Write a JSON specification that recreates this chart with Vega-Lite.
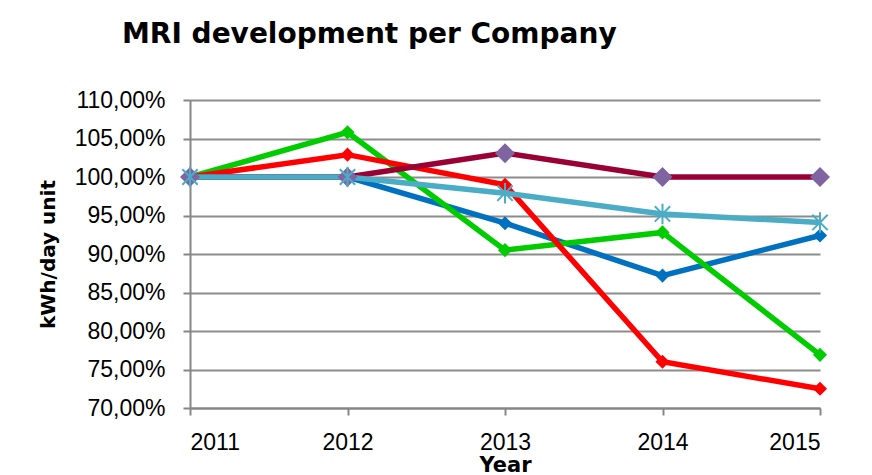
{
  "$schema": "https://vega.github.io/schema/vega-lite/v6.json",
  "width": 630,
  "height": 308,
  "autosize": {"type": "none"},
  "padding": {"left": 190, "top": 100, "right": 52, "bottom": 67},
  "background": "white",
  "config": {
    "view": {"stroke": null},
    "font": "Liberation Sans"
  },
  "title": {
    "text": "MRI development per Company",
    "anchor": "start",
    "frame": "group",
    "dx": -68,
    "offset": 40,
    "fontSize": 28,
    "fontWeight": "bold",
    "color": "#000000",
    "font": "DejaVu Sans"
  },
  "data": {
    "values": [
      {"year": 2011, "series": "A", "value": 100.0},
      {"year": 2012, "series": "A", "value": 100.0},
      {"year": 2013, "series": "A", "value": 94.0},
      {"year": 2014, "series": "A", "value": 87.2},
      {"year": 2015, "series": "A", "value": 92.4},
      {"year": 2011, "series": "B", "value": 100.0},
      {"year": 2012, "series": "B", "value": 105.8},
      {"year": 2013, "series": "B", "value": 90.5},
      {"year": 2014, "series": "B", "value": 92.8},
      {"year": 2015, "series": "B", "value": 76.9},
      {"year": 2011, "series": "C", "value": 100.0},
      {"year": 2012, "series": "C", "value": 102.9},
      {"year": 2013, "series": "C", "value": 99.0},
      {"year": 2014, "series": "C", "value": 76.0},
      {"year": 2015, "series": "C", "value": 72.5},
      {"year": 2011, "series": "D", "value": 100.0},
      {"year": 2012, "series": "D", "value": 100.0},
      {"year": 2013, "series": "D", "value": 103.1},
      {"year": 2014, "series": "D", "value": 100.0},
      {"year": 2015, "series": "D", "value": 100.0},
      {"year": 2011, "series": "E", "value": 100.0},
      {"year": 2012, "series": "E", "value": 100.0},
      {"year": 2013, "series": "E", "value": 97.9},
      {"year": 2014, "series": "E", "value": 95.2},
      {"year": 2015, "series": "E", "value": 94.1}
    ]
  },
  "encoding": {
    "x": {
      "field": "year",
      "type": "quantitative",
      "scale": {"domain": [2011, 2015], "nice": false, "zero": false},
      "axis": {
        "values": [2011, 2012, 2013, 2014, 2015],
        "format": "d",
        "grid": false,
        "domainColor": "#868686",
        "domainWidth": 2,
        "tickColor": "#868686",
        "tickWidth": 2,
        "tickSize": 7,
        "labelFontSize": 23,
        "labelColor": "#000000",
        "labelPadding": 16,
        "labelFont": "Liberation Sans",
        "title": "Year",
        "titleFont": "DejaVu Sans",
        "titleFontSize": 21,
        "titleFontWeight": "bold",
        "titleColor": "#000000",
        "titlePadding": 0
      }
    },
    "y": {
      "field": "value",
      "type": "quantitative",
      "scale": {"domain": [70, 110], "nice": false, "zero": false},
      "axis": {
        "values": [70, 75, 80, 85, 90, 95, 100, 105, 110],
        "labelExpr": "replace(format(datum.value, '.2f'), '.', ',') + '%'",
        "grid": true,
        "gridColor": "#8c8c8c",
        "gridWidth": 2,
        "domainColor": "#868686",
        "domainWidth": 2,
        "tickColor": "#868686",
        "tickWidth": 2,
        "tickSize": 7,
        "labelFontSize": 23,
        "labelColor": "#000000",
        "labelPadding": 18,
        "title": "kWh/day unit",
        "titleFont": "DejaVu Sans",
        "titleFontSize": 20,
        "titleFontWeight": "bold",
        "titleColor": "#000000",
        "titlePadding": 16
      }
    }
  },
  "layer": [
    {
      "mark": {"type": "line", "strokeWidth": 5.5},
      "encoding": {
        "color": {
          "field": "series",
          "type": "nominal",
          "scale": {
            "domain": ["A", "B", "C", "D", "E"],
            "range": ["#0070C0", "#00CC00", "#FF0000", "#990033", "#4BACC6"]
          },
          "legend": null
        }
      }
    },
    {
      "transform": [{"filter": "datum.series === 'A' || datum.series === 'B' || datum.series === 'C'"}],
      "mark": {"type": "point", "shape": "diamond", "filled": true, "size": 200, "opacity": 1},
      "encoding": {
        "color": {
          "field": "series",
          "type": "nominal",
          "scale": {
            "domain": ["A", "B", "C", "D", "E"],
            "range": ["#0070C0", "#00CC00", "#FF0000", "#990033", "#4BACC6"]
          },
          "legend": null
        }
      }
    },
    {
      "transform": [{"filter": "datum.series === 'D'"}],
      "mark": {"type": "point", "shape": "diamond", "filled": true, "size": 400, "color": "#8064A2", "opacity": 1},
      "encoding": {}
    },
    {
      "transform": [{"filter": "datum.series === 'E'"}],
      "mark": {
        "type": "point",
        "shape": "M-0.75,-0.75L0.75,0.75M-0.75,0.75L0.75,-0.75M0,-1L0,1",
        "filled": false,
        "size": 420,
        "color": "#4BACC6",
        "strokeWidth": 2,
        "opacity": 1
      },
      "encoding": {}
    }
  ]
}
